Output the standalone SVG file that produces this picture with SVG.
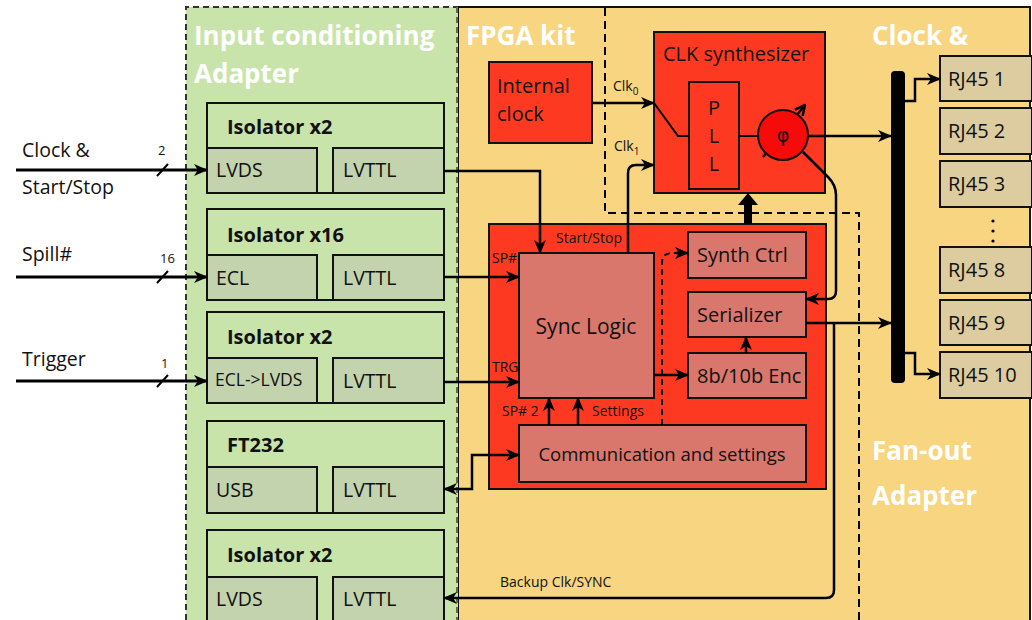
<svg xmlns="http://www.w3.org/2000/svg" width="1032" height="620" viewBox="0 0 1032 620">
<style>
text{font-family:"Open Sans","Noto Sans","Liberation Sans",sans-serif;fill:#111}
.hdr{font-size:26px;font-weight:bold;fill:#fff}
.ttl{font-size:20px;font-weight:bold}
.lbl{font-size:19.5px}
.sm{font-size:14px}
.num{font-size:13px}
.blk{font-size:20px}
.outer{fill:#c8e4aa;stroke:#111;stroke-width:2}
.inner{fill:#c3d3ae;stroke:#111;stroke-width:2}
.red{fill:#fd3a21;stroke:#111;stroke-width:2}
.sal{fill:#d9776d;stroke:#111;stroke-width:2}
.rj{fill:#dccca0;stroke:#111;stroke-width:2}
.ln{fill:none;stroke:#000;stroke-width:2.5}
.lnT{fill:none;stroke:#000;stroke-width:3}
.arr{marker-end:url(#ah)}
.dash{fill:none;stroke:#000;stroke-width:2;stroke-dasharray:8 5}
</style>
<defs>
<marker id="ah" viewBox="0 0 14 12" refX="13" refY="6" markerWidth="14" markerHeight="12" markerUnits="userSpaceOnUse" orient="auto-start-reverse"><path d="M0,0 L14,6 L0,12 L4,6 z" fill="#000"/></marker>
<marker id="open" viewBox="0 0 12 12" refX="11" refY="6" markerWidth="12" markerHeight="12" markerUnits="userSpaceOnUse" orient="auto"><path d="M1,1 L11,6 L1,11" fill="none" stroke="#000" stroke-width="2.5"/></marker>
</defs>

<!-- backgrounds -->
<g id="regions">
<rect x="458" y="7" width="572" height="620" fill="#f7d581" stroke="#111" stroke-width="2"/>
<rect x="186" y="7" width="272" height="620" fill="#c8e4aa"/>
<path d="M186,620 V7 H458" fill="none" stroke="#333" stroke-width="2" stroke-dasharray="6 4"/>
<line x1="457" y1="7" x2="457" y2="620" stroke="#6b6b3a" stroke-width="2" stroke-dasharray="6 4"/>
<path d="M605,8 V213 H859 V620" class="dash"/>
<text class="hdr" x="194" y="45">Input conditioning</text>
<text class="hdr" x="194" y="83">Adapter</text>
<text class="hdr" x="466" y="45">FPGA kit</text>
<text class="hdr" x="872" y="45">Clock &amp;</text>
<text class="hdr" x="872" y="460">Fan-out</text>
<text class="hdr" x="872" y="505">Adapter</text>
</g>

<!-- inputs -->
<g id="inputs">
<text class="lbl" x="22" y="157">Clock &amp;</text>
<text class="lbl" x="22" y="194">Start/Stop</text>
<text class="lbl" x="22" y="261">Spill#</text>
<text class="lbl" x="22" y="366">Trigger</text>
<text class="num" x="158" y="155">2</text>
<text class="num" x="160" y="263">16</text>
<text class="num" x="161" y="368">1</text>
</g>

<!-- isolator boxes -->
<g id="iso1">
<rect class="outer" x="207" y="103" width="237" height="90"/>
<text class="ttl" x="227" y="134">Isolator x2</text>
<rect class="inner" x="207" y="148" width="110" height="45"/>
<rect class="inner" x="333" y="148" width="111" height="45"/>
<text class="lbl" x="216" y="177">LVDS</text>
<text class="lbl" x="343" y="177">LVTTL</text>
</g>
<g id="iso16">
<rect class="outer" x="207" y="209" width="237" height="91"/>
<text class="ttl" x="227" y="242">Isolator x16</text>
<rect class="inner" x="207" y="255" width="110" height="45"/>
<rect class="inner" x="333" y="255" width="111" height="45"/>
<text class="lbl" x="216" y="285">ECL</text>
<text class="lbl" x="343" y="285">LVTTL</text>
</g>
<g id="iso2b">
<rect class="outer" x="207" y="312" width="237" height="91"/>
<text class="ttl" x="227" y="344">Isolator x2</text>
<rect class="inner" x="207" y="358" width="110" height="45"/>
<rect class="inner" x="333" y="358" width="111" height="45"/>
<text x="215" y="386" style="font-size:17.5px">ECL-&gt;LVDS</text>
<text class="lbl" x="343" y="388">LVTTL</text>
</g>
<g id="ft232">
<rect class="outer" x="207" y="421" width="237" height="92"/>
<text class="ttl" x="227" y="452">FT232</text>
<rect class="inner" x="207" y="467" width="110" height="46"/>
<rect class="inner" x="333" y="467" width="111" height="46"/>
<text class="lbl" x="216" y="497">USB</text>
<text class="lbl" x="343" y="497">LVTTL</text>
</g>
<g id="iso2c">
<rect class="outer" x="207" y="530" width="237" height="92"/>
<text class="ttl" x="227" y="562">Isolator x2</text>
<rect class="inner" x="207" y="577" width="110" height="46"/>
<rect class="inner" x="333" y="577" width="111" height="46"/>
<text class="lbl" x="216" y="606">LVDS</text>
<text class="lbl" x="343" y="606">LVTTL</text>
</g>

<!-- FPGA blocks -->
<g id="intclk">
<rect class="red" x="489" y="62" width="103" height="81"/>
<text class="blk" x="497" y="93">Internal</text>
<text class="blk" x="497" y="121">clock</text>
</g>
<g id="clksynth">
<rect class="red" x="654" y="32" width="171" height="161"/>
<text class="blk" x="663" y="61">CLK synthesizer</text>
<rect class="red" x="689" y="82" width="50" height="107"/>
<text class="blk" x="714" y="115" text-anchor="middle">P</text>
<text class="blk" x="714" y="143" text-anchor="middle">L</text>
<text class="blk" x="714" y="171" text-anchor="middle">L</text>
<path d="M654,103 L678,136 H689 M739,136 H760" class="ln" style="stroke-width:2"/>
<line x1="763" y1="157" x2="805" y2="105" stroke="#000" stroke-width="2.5" marker-end="url(#open)"/>
<circle cx="783" cy="135" r="25" fill="#f60a0a" stroke="#111" stroke-width="2"/>
<text x="783" y="142" text-anchor="middle" style="font-size:19px;font-family:'DejaVu Sans',sans-serif">φ</text>
</g>
<g id="fpgablock">
<rect class="red" x="489" y="224" width="337" height="265"/>
</g>
<g id="synclogic">
<rect class="sal" x="519" y="253" width="135" height="145"/>
<text class="blk" x="586" y="334" text-anchor="middle" style="font-size:21px">Sync Logic</text>
</g>
<g id="synthctrl">
<rect class="sal" x="688" y="232" width="118" height="46"/>
<text class="blk" x="697" y="262">Synth Ctrl</text>
</g>
<g id="serializer">
<rect class="sal" x="688" y="292" width="118" height="45"/>
<text class="blk" x="697" y="322">Serializer</text>
</g>
<g id="enc">
<rect class="sal" x="688" y="353" width="118" height="45"/>
<text class="blk" x="697" y="383">8b/10b Enc</text>
</g>
<g id="comm">
<rect class="sal" x="519" y="425" width="287" height="57"/>
<text x="662" y="461" text-anchor="middle" style="font-size:18.5px">Communication and settings</text>
</g>

<!-- RJ45 -->
<g id="bus"><rect x="891" y="71" width="14" height="312" rx="4" fill="#000"/></g>
<g id="rj1"><rect class="rj" x="940" y="56" width="92" height="45"/><text class="blk" x="948" y="86">RJ45 1</text></g>
<g id="rj2"><rect class="rj" x="940" y="108" width="92" height="46"/><text class="blk" x="948" y="138">RJ45 2</text></g>
<g id="rj3"><rect class="rj" x="940" y="161" width="92" height="46"/><text class="blk" x="948" y="191">RJ45 3</text></g>
<g id="dots">
<circle cx="993" cy="221" r="1.6" fill="#000"/><circle cx="993" cy="231" r="1.6" fill="#000"/><circle cx="993" cy="241" r="1.6" fill="#000"/>
</g>
<g id="rj8"><rect class="rj" x="940" y="247" width="92" height="46"/><text class="blk" x="948" y="277">RJ45 8</text></g>
<g id="rj9"><rect class="rj" x="940" y="300" width="92" height="45"/><text class="blk" x="948" y="330">RJ45 9</text></g>
<g id="rj10"><rect class="rj" x="940" y="352" width="92" height="46"/><text class="blk" x="948" y="382">RJ45 10</text></g>

<!-- connectors -->
<g id="connectors">
<path class="lnT arr" d="M16,170 H207"/>
<path class="lnT arr" d="M16,277 H207"/>
<path class="lnT arr" d="M16,381 H207"/>
<path d="M157,176 L168,164 M157,283 L168,271 M157,387 L168,375" stroke="#000" stroke-width="2"/>

<path class="ln arr" d="M444,171 H540 V253"/>
<path class="ln arr" d="M444,277 H519"/>
<path class="ln arr" d="M444,382 H519"/>
<path class="ln arr" d="M444,489 H472 V455 H519" marker-start="url(#ah)"/>
<path class="ln arr" d="M834,323 V590 Q834,598 826,598 H444"/>

<path class="ln arr" d="M592,103 H654"/>
<path class="ln arr" d="M628,253 V173 Q628,165 636,165 H654"/>
<path class="ln arr" d="M808,136 H891"/>
<path class="ln arr" d="M803,152 L828,177 Q836,185 836,195 V291 Q836,299 828,299 H806"/>
<path class="ln arr" d="M806,323 H891"/>
<path class="ln arr" d="M905,101 H915 V79 H940"/>
<path class="ln arr" d="M905,353 H915 V374 H940"/>

<path class="ln arr" d="M654,375 H688"/>
<path class="ln arr" d="M746,353 V337"/>
<path class="ln arr" d="M549,425 V398"/>
<path class="ln arr" d="M578,425 V398"/>
<path d="M662,425 V263 Q662,253 672,253 H676" fill="none" stroke="#000" stroke-width="2" stroke-dasharray="6 4"/>
<path class="ln arr" d="M676,253 H688"/>
<polygon points="744,224 752,224 752,205 758,205 748,193 738,205 744,205" fill="#000"/>

<text class="sm" x="556" y="243">Start/Stop</text>
<text class="sm" x="492" y="263">SP#</text>
<text class="sm" x="492" y="372">TRG</text>
<text class="sm" x="502" y="416">SP# 2</text>
<text class="sm" x="592" y="416">Settings</text>
<text class="sm" x="500" y="587">Backup Clk/SYNC</text>
<text class="sm" x="613" y="91">Clk<tspan style="font-size:10px" dy="4">0</tspan></text>
<text class="sm" x="614" y="151">Clk<tspan style="font-size:10px" dy="4">1</tspan></text>
</g>
</svg>
